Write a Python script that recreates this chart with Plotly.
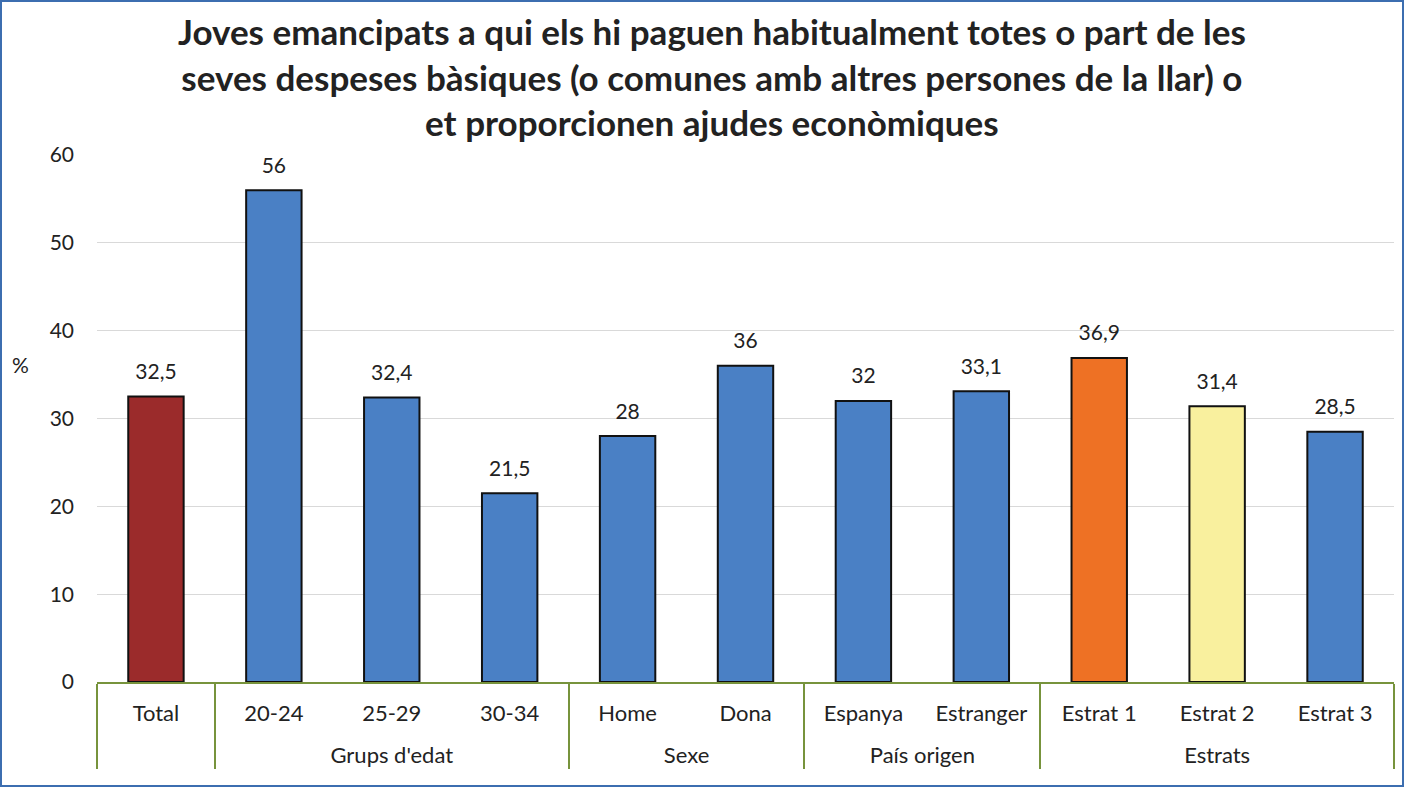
import plotly.graph_objects as go

groups = [" ", "Grups d'edat", "Grups d'edat", "Grups d'edat", "Sexe", "Sexe",
          "País origen", "País origen", "Estrats", "Estrats", "Estrats"]
categories = ["Total", "20-24", "25-29", "30-34", "Home", "Dona",
              "Espanya", "Estranger", "Estrat 1", "Estrat 2", "Estrat 3"]
values = [32.5, 56, 32.4, 21.5, 28, 36, 32, 33.1, 36.9, 31.4, 28.5]
bar_colors = ["#9b2b2b", "#4a80c5", "#4a80c5", "#4a80c5", "#4a80c5", "#4a80c5",
              "#4a80c5", "#4a80c5", "#ee7124", "#f9f09e", "#4a80c5"]

title = ("<b>Joves emancipats a qui els hi paguen habitualment totes o part de les<br>"
         "seves despeses bàsiques (o comunes amb altres persones de la llar) o<br>"
         "et proporcionen ajudes econòmiques</b>")

W, H = 1404, 787
ml, mr, mt, mb = 97, 10, 155, 105
pw, ph = W - ml - mr, H - mt - mb

# a tiny invisible second line under each category label pushes the group row down
pad = "<br><span style='font-size:1px'>\u00a0</span>"
x_labels = [groups, [c + pad for c in categories]]

fig = go.Figure()
fig.add_trace(go.Bar(
    x=x_labels, y=values,
    marker=dict(color=bar_colors, line=dict(color="#111111", width=2)),
    width=0.47, hoverinfo="y",
))
fig.add_trace(go.Scatter(
    x=x_labels, y=values, mode="markers+text",
    marker=dict(size=18, color="rgba(0,0,0,0)"),
    texttemplate="%{y}", textposition="top center",
    textfont=dict(size=21, color="#222222"),
    cliponaxis=False, hoverinfo="skip",
))

fig.add_shape(type="rect", xref="paper", yref="paper",
              x0=(1 - ml) / pw, x1=(W - 1 - ml) / pw,
              y0=-(mb - 1) / ph, y1=1 + (mt - 1) / ph,
              line=dict(color="#3c6eb0", width=2), layer="below")

fig.add_annotation(text=title, xref="paper", yref="paper",
                   x=(712 - ml) / pw, xanchor="center", y=(H - mb - 8) / ph, yanchor="top",
                   showarrow=False, font=dict(size=35, color="#222222"))
fig.add_annotation(text="%", xref="paper", yref="paper", x=-(ml - 20) / pw, xanchor="center",
                   y=(H - mb - 364) / ph, yanchor="middle",
                   showarrow=False, font=dict(size=21, color="#222222"))

fig.update_layout(
    width=W, height=H,
    margin=dict(l=ml, r=mr, t=mt, b=mb, autoexpand=False),
    paper_bgcolor="white", plot_bgcolor="white",
    font=dict(family="Lato, Carlito, sans-serif", color="#222222"),
    separators=",.",
    showlegend=False,
)
fig.update_yaxes(range=[0, 60], dtick=10, showgrid=True, gridcolor="#d9d9d9", gridwidth=1,
                 zeroline=False, tickfont=dict(size=21), ticklabelstandoff=22)
fig.update_xaxes(range=[-0.5, 10.5], showline=True, linecolor="#77933c", linewidth=2,
                 showdividers=True, dividercolor="#77933c", dividerwidth=2,
                 tickfont=dict(size=22), ticks="", ticklabelstandoff=11)

fig.write_html("out.html", config={"displayModeBar": False},
               post_script="document.body.style.margin='0px';")
